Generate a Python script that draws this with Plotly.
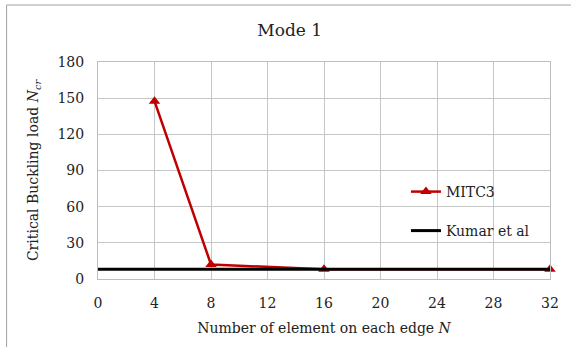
import plotly.graph_objects as go

n_elements = [4, 8, 16, 32]
mitc3 = [147.5, 12, 8, 8]
kumar_x = [0, 32]
kumar_y = [8, 8]
x_ticks = [0, 4, 8, 12, 16, 20, 24, 28, 32]
y_ticks = [0, 30, 60, 90, 120, 150, 180]

W, H = 571, 347
L, R, T, B = 98, 18, 62, 68
pw, ph = W - L - R, H - T - B

def px(x):
    return (x - L) / pw

def py(y):
    return (H - B - y) / ph

FONT = "DejaVu Serif"
TXT = "#222"

fig = go.Figure()
fig.add_trace(go.Scatter(
    x=n_elements, y=mitc3, mode="lines+markers", name="MITC3",
    line=dict(color="#C00000", width=2.5),
    marker=dict(symbol="triangle-up", size=10, color="#C00000"),
    legend="legend", cliponaxis=False, showlegend=True,
))
fig.add_trace(go.Scatter(
    x=kumar_x, y=kumar_y, mode="lines", name="Kumar et al",
    line=dict(color="black", width=3),
    legend="legend2", cliponaxis=False, showlegend=True,
))

axis_common = dict(
    showgrid=True, gridcolor="#c6c6c6", gridwidth=1,
    showline=True, linecolor="#bdbdbd", linewidth=1, mirror=True,
    zeroline=False, ticks="", tickfont=dict(family=FONT, size=14, color=TXT),
)

fig.update_layout(
    width=W, height=H,
    margin=dict(l=L, r=R, t=T, b=B),
    paper_bgcolor="white", plot_bgcolor="white",
    font=dict(family=FONT, size=14, color=TXT),
    showlegend=True,
    title=dict(text="Mode 1", x=px(291), xref="paper", xanchor="center",
               y=1 - 30 / H, yanchor="middle",
               font=dict(family=FONT, size=17, color=TXT)),
    xaxis=dict(range=[0, 32], tickvals=x_ticks, ticklabelstandoff=11,
               title=dict(text="Number of element on each edge <i>N</i>",
                          font=dict(family=FONT, size=14, color=TXT), standoff=13),
               **axis_common),
    yaxis=dict(range=[0, 180], tickvals=y_ticks, ticklabelstandoff=10,
               title=dict(text="Critical Buckling load <i>N</i><sub><i>cr</i></sub>",
                          font=dict(family=FONT, size=14, color=TXT), standoff=15),
               **axis_common),
    legend=dict(x=px(408), y=py(192), xanchor="left", yanchor="middle",
                bgcolor="rgba(0,0,0,0)", font=dict(family=FONT, size=14, color=TXT),
                itemwidth=30),
    legend2=dict(x=px(408), y=py(231), xanchor="left", yanchor="middle",
                 bgcolor="rgba(0,0,0,0)", font=dict(family=FONT, size=14, color=TXT),
                 itemwidth=30),
    shapes=[dict(type="rect", xref="paper", yref="paper",
                 x0=px(6), x1=px(580), y0=py(360), y1=py(5),
                 line=dict(color="#a0a0a0", width=1), layer="below")],
)

fig.write_html("out.html")
